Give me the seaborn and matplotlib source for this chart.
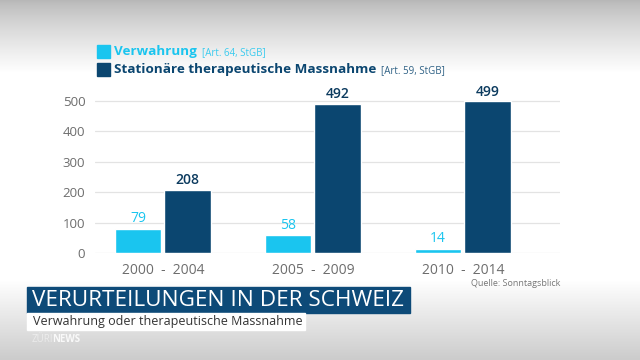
import matplotlib
matplotlib.use('Agg')
import matplotlib.pyplot as plt
import numpy as np
import pandas as pd
import seaborn as sns
from matplotlib.patches import Rectangle

periods = ['2000  -  2004', '2005  -  2009', '2010  -  2014']
verwahrung = [79, 58, 14]
massnahme = [208, 492, 499]
series_names = ['Verwahrung', 'Stationäre therapeutische Massnahme']
series_refs = ['[Art. 64, StGB]', '[Art. 59, StGB]']
colors = ['#1ac5ef', '#0b4670']

df = pd.DataFrame({
    'period': periods * 2,
    'count': verwahrung + massnahme,
    'series': [series_names[0]] * 3 + [series_names[1]] * 3,
})

sns.set_theme(style='white')
plt.rcParams['font.family'] = ['Open Sans', 'DejaVu Sans']

fig = plt.figure(figsize=(6.4, 3.6), dpi=100)

# background gradient: grey top, white middle, light grey bottom
bg = fig.add_axes([0, 0, 1, 1], zorder=-10)
yy = np.linspace(0, 1, 360)
shade = np.ones_like(yy)
top = yy < 0.2
shade[top] = 0.72 + 0.28 * (yy[top] / 0.2) ** 0.8
bot = yy > 0.78
shade[bot] = 1 - 0.2 * ((yy[bot] - 0.78) / 0.22)
img = np.repeat(shade[:, None], 10, axis=1)
bg.imshow(np.dstack([img, img, img]), aspect='auto', extent=[0, 1, 1, 0])
bg.axis('off')

ax = fig.add_axes([95 / 640, 1 - 253 / 360, 465 / 640, 158 / 360])
ax.patch.set_alpha(0)
sns.barplot(data=df, x='period', y='count', hue='series', palette=colors,
            width=0.66, gap=0.06, saturation=1, legend=False, ax=ax, zorder=3)

ax.set_ylim(0, 520)
ax.set_xlim(-0.453, 2.647)
ax.set_yticks([0, 100, 200, 300, 400, 500])
ax.grid(axis='y', color='#e3e3e3', linewidth=0.9, zorder=0)
ax.set_axisbelow(True)
for s in ax.spines.values():
    s.set_visible(False)
ax.set_xlabel('')
ax.set_ylabel('')
ax.tick_params(axis='y', colors='#6d6d6d', labelsize=9.5, length=0, pad=7)
ax.tick_params(axis='x', colors='#6d6d6d', labelsize=10, length=0, pad=7)

for cont, col, w in zip(ax.containers, ['#1ac5ef', '#0b3a5e'], ['normal', 'semibold']):
    ax.bar_label(cont, padding=2, color=col, fontsize=10, fontweight=w)

# legend
for i, (name, ref, col) in enumerate(zip(series_names, series_refs, colors)):
    y = 45 + i * 18
    fig.patches.append(Rectangle((97 / 640, 1 - (y + 13) / 360), 13 / 640, 13 / 360,
                                 transform=fig.transFigure, color=col))
    t = fig.text(114 / 640, 1 - (y + 7) / 360, name, color=col, fontsize=9.7,
                 fontweight='bold', va='center')
    fig.canvas.draw()
    bb = t.get_window_extent()
    fig.text((bb.x1 + 5) / 640, 1 - (y + 7.5) / 360, ref, color=col, fontsize=7,
             va='center', alpha=0.85)

fig.text(560 / 640, 1 - 283 / 360, 'Quelle: Sonntagsblick', color='#777777',
         fontsize=6.5, ha='right', va='center')

# title banner
fig.patches.append(Rectangle((27 / 640, 1 - 313 / 360), 383 / 640, 26 / 360,
                             transform=fig.transFigure, color='#0d4a78'))
fig.text(32 / 640, 1 - 300 / 360, 'VERURTEILUNGEN IN DER SCHWEIZ', color='white',
         fontsize=16.2, va='center')
fig.patches.append(Rectangle((27 / 640, 1 - 330 / 360), 278 / 640, 17 / 360,
                             transform=fig.transFigure, color='white'))
fig.text(33 / 640, 1 - 321.5 / 360, 'Verwahrung oder therapeutische Massnahme',
         color='#333333', fontsize=9, va='center')
fig.text(32 / 640, 1 - 340 / 360, 'ZÜRI', color='white', fontsize=7, va='center', alpha=0.5)
fig.text(52 / 640, 1 - 340 / 360, 'NEWS', color='white', fontsize=7, va='center',
         fontweight='bold', alpha=0.85)

fig.savefig('out.png', dpi=100)
